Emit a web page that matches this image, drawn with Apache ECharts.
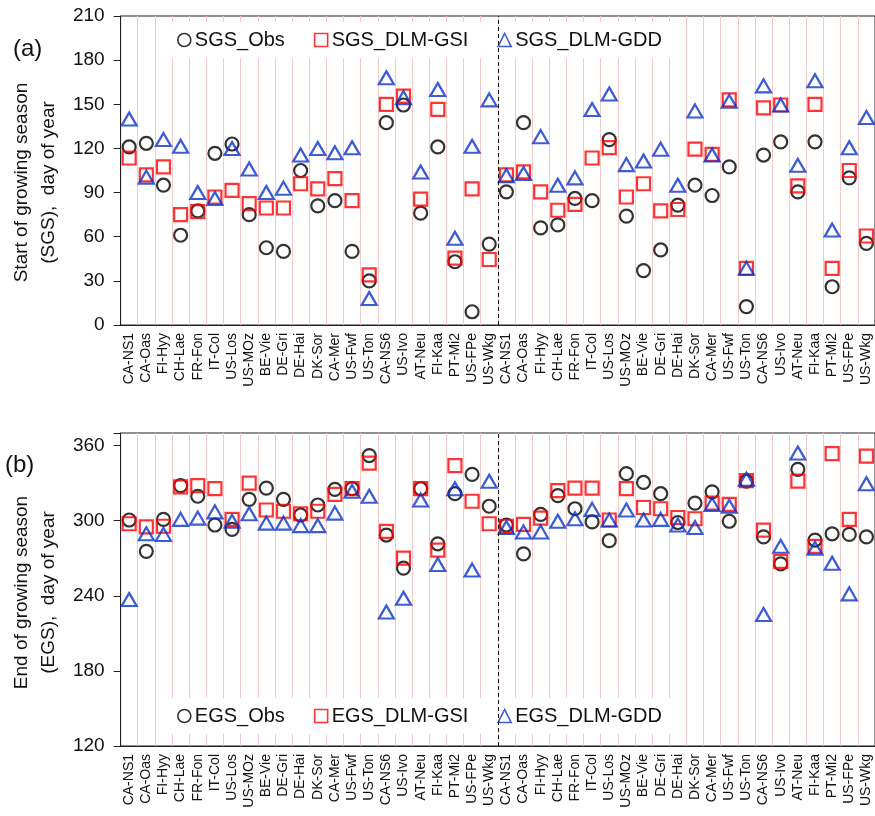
<!DOCTYPE html>
<html>
<head>
<meta charset="utf-8">
<script src="https://cdn.jsdelivr.net/npm/echarts@6/dist/echarts.min.js"></script>
<style>
  html, body { margin: 0; padding: 0; background: #fff; }
  #main { width: 875px; height: 816px; }
</style>
</head>
<body>
<div id="main"></div>
<script>
const sites = ['CA-NS1','CA-Oas','FI-Hyy','CH-Lae','FR-Fon','IT-Col','US-Los','US-MOz','BE-Vie','DE-Gri','DE-Hai',
  'DK-Sor','CA-Mer','US-Fwf','US-Ton','CA-NS6','US-Ivo','AT-Neu','FI-Kaa','PT-Mi2','US-FPe','US-Wkg'];
const categories = sites.concat(sites);

// start of growing season, day of year
const sgsObs = [121,123.5,95,61,77.5,116.7,123,75,52.5,50,105,81,84.5,50,30,137.5,149.5,76,121,43,9,55,
  90.5,137.5,66,68,86,84.5,126,74,37,51,81.5,95,88,107.5,12.5,115.5,124.5,90.5,124.5,26,100,55.5];
const sgsGsi = [113.5,102,107.5,75,77,87,91.5,82.5,79.5,79.5,96,92.5,99.5,84.5,34,150,155.5,85.5,146.5,45.5,92.5,44.5,
  102,104,90.5,78,82,113.5,120.5,87,96,77.5,78.5,119.5,116,153,38.5,147.5,149.5,94.5,150,38.5,105,60.5];
const sgsGdd = [140,100.5,126,121.5,90,86,120,106,90,93,115.5,120,117,120.5,18,168,154.5,104,160,59,121.5,153,
  101.5,103,128,95,100,146.5,157,109,111.5,119.5,95,145.5,115.5,152,38.5,162.5,149.5,108.5,166,64.5,120.5,141];

// end of growing season, day of year
const egsObs = [300.5,275.5,301,328,319.5,296.5,293,317,326,317,304.5,312.5,325,325.5,352,288.5,262,325.5,281.5,321.5,337,311.5,
  296.5,273.5,305,320,309.5,299,284,337.5,330.5,321.5,298.5,314,323,299.5,331.5,287,265.5,341,284.5,289.5,289,287];
const egsGsi = [297.5,295,295.5,327,328,325.5,301,330,308.5,307.5,305.5,307.5,321,325.5,346,291.5,270,325.5,276.5,344,315.5,297.5,
  295.5,297,302,324,326,326,300.5,325.5,310.5,309.5,302.5,301.5,314,313,332,292.5,267.5,331.5,279.5,353.5,301,351.5];
const egsGdd = [237,289.5,289,301,302,307,299.5,305.5,298,298,296,296,306,323.5,319.5,227,238,316.5,265,325.5,260.5,331.5,
  294.5,291,291,299.5,301.5,309,300.5,308.5,300.5,301,296.5,294.5,313,311.5,333,225,279.5,354,278,266,241.5,329.5];

const font = 'Liberation Sans, Arial, sans-serif';
const txt = '#111';
const pink = '#f3caca';
const red = '#ff0000';
const blue = '#0a33cc';

function catAxis(grid) {
  return {
    type: 'category', gridIndex: grid, data: categories,
    axisLine: { lineStyle: { color: '#222', width: 1 } },
    axisTick: { interval: 1, length: 6, lineStyle: { color: '#222' } },
    splitLine: { show: true, interval: 0, lineStyle: { color: pink, width: 1 } },
    axisLabel: { rotate: 90, interval: 0, fontSize: 14, margin: 8, color: txt, fontFamily: font }
  };
}
function hiddenAxis(grid) {
  return { type: 'value', gridIndex: grid, min: 0, max: 44, show: false };
}
function valAxis(grid, min, max, name, pad) {
  return {
    type: 'value', gridIndex: grid, min: min, max: max, interval: 30 * (grid + 1),
    name: name, nameLocation: 'middle', nameRotate: 90, nameGap: 55,
    nameTextStyle: { fontSize: 19, lineHeight: 27, color: txt, fontFamily: font, align: 'center', padding: pad },
    axisLine: { show: true, lineStyle: { color: '#222', width: 1 } },
    axisTick: { show: true, length: 7, lineStyle: { color: '#222' } },
    splitLine: { show: false },
    axisLabel: {
      fontSize: 19, margin: 16, color: txt, fontFamily: font,
      formatter: v => (v % (30 * (grid + 1)) === 0 ? v : '')
    }
  };
}
function pts(name, sym, color, data, grid, size) {
  return {
    name: name, type: 'scatter', symbol: sym, symbolSize: size,
    xAxisIndex: grid * 2, yAxisIndex: grid, data: data, z: 3,
    itemStyle: { color: 'rgba(0,0,0,0)', borderColor: color, borderWidth: 2.2 }
  };
}
function divider(grid) {
  return {
    type: 'line', xAxisIndex: grid * 2 + 1, yAxisIndex: grid, data: [], z: 10,
    markLine: {
      silent: true, symbol: ['none', 'none'], label: { show: false }, animation: false,
      lineStyle: { color: '#111', width: 1, type: [4, 3] },
      data: [{ xAxis: 22 }]
    }
  };
}
function legendAt(top, names) {
  return {
    left: 165, top: top, data: names, itemGap: 29, itemWidth: 13, itemHeight: 13,
    padding: [8, 12], backgroundColor: '#fff',
    itemStyle: { borderWidth: 1.6 },
    textStyle: { fontSize: 20, color: txt, fontFamily: font, padding: [0, 0, 0, -1] }
  };
}

const chart = echarts.init(document.getElementById('main'));
chart.setOption({
  animation: false,
  backgroundColor: '#fff',
  title: [
    { text: '(a)', left: 8, top: 32, textStyle: { fontSize: 24, fontWeight: 'normal', color: txt, fontFamily: font } },
    { text: '(b)', left: 0, top: 448, textStyle: { fontSize: 24, fontWeight: 'normal', color: txt, fontFamily: font } }
  ],
  grid: [
    { left: 114, top: 16, width: 764, height: 309, show: true, borderColor: '#222', borderWidth: 1 },
    { left: 114, top: 433, width: 764, height: 313, show: true, borderColor: '#222', borderWidth: 1 }
  ],
  legend: [
    legendAt(22, ['SGS_Obs', 'SGS_DLM-GSI', 'SGS_DLM-GDD']),
    legendAt(698, ['EGS_Obs', 'EGS_DLM-GSI', 'EGS_DLM-GDD'])
  ],
  xAxis: [catAxis(0), hiddenAxis(0), catAxis(1), hiddenAxis(1)],
  yAxis: [
    valAxis(0, 0, 210, 'Start of growing season\n(SGS),  day of year', [0, 24, 0, 0]),
    valAxis(1, 120, 370, 'End of growing season\n(EGS),  day of year', [0, 6, 0, 0])
  ],
  series: [
    pts('SGS_Obs', 'circle', '#000', sgsObs, 0, 13),
    pts('SGS_DLM-GSI', 'rect', red, sgsGsi, 0, 13),
    pts('SGS_DLM-GDD', 'triangle', blue, sgsGdd, 0, [15, 13]),
    pts('EGS_Obs', 'circle', '#000', egsObs, 1, 13),
    pts('EGS_DLM-GSI', 'rect', red, egsGsi, 1, 13),
    pts('EGS_DLM-GDD', 'triangle', blue, egsGdd, 1, [15, 13]),
    divider(0),
    divider(1)
  ]
});
</script>
</body>
</html>
